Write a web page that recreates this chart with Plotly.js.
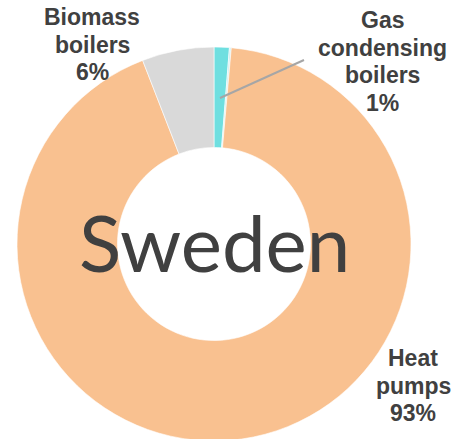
<!DOCTYPE html>
<html>
<head>
<meta charset="utf-8">
<script src="https://cdn.plot.ly/plotly-3.0.1.min.js"></script>
<style>
html,body{margin:0;padding:0;overflow:hidden;background:#fff;}
#chart{width:452px;height:445px;}
</style>
</head>
<body>
<div id="chart"></div>
<script>
// Data
const categories = ["Gas condensing boilers", "Other", "Heat pumps", "Biomass boilers"];
const values = [1.25, 0.15, 92.7, 5.9];
const shownPercent = ["1%", "", "93%", "6%"];
const labelLines = [["Gas", "condensing", "boilers"], [], ["Heat", "pumps"], ["Biomass", "boilers"]];
const colors = ["#6fdfe0", "#cdeef0", "#f9c190", "#d9d9d9"];
const centerTitle = "Sweden";

const W = 452, H = 445;
const cx = 214, cy = 244, R = 197;

const trace = {
  type: "pie",
  labels: categories,
  values: values,
  sort: false,
  direction: "clockwise",
  rotation: 0,
  hole: 0.49,
  textinfo: "none",
  hoverinfo: "label+percent",
  marker: {colors: colors, line: {color: "#ffffff", width: 0.6}},
  domain: {x: [(cx - R) / W, (cx + R) / W], y: [(H - cy - R) / H, (H - cy + R) / H]},
  showlegend: false
};

// first-line centre of each outside label block
const labelPos = [
  {x: 382, y: 20},
  null,
  {x: 413, y: 358},
  {x: 92, y: 17}
];
const lineGap = 27.6;

const px = (x) => x / W;
const py = (y) => 1 - y / H;

const annotations = [];
categories.forEach((c, i) => {
  if (!labelPos[i]) return;
  const lines = labelLines[i].concat([shownPercent[i]]);
  lines.forEach((ln, k) => {
    annotations.push({
      xref: "paper", yref: "paper",
      x: px(labelPos[i].x), y: py(labelPos[i].y + k * lineGap),
      xanchor: "center", yanchor: "middle",
      text: ln, showarrow: false, align: "center",
      font: {family: "Liberation Sans", size: 23, color: "#404040", weight: "bold"}
    });
  });
});
annotations.push({
  xref: "paper", yref: "paper",
  x: px(cx), y: py(242), xanchor: "center", yanchor: "middle",
  text: centerTitle, showarrow: false,
  font: {family: "Lato, sans-serif", size: 78, color: "#404040"}
});

const layout = {
  width: W, height: H,
  margin: {l: 0, r: 0, t: 0, b: 0},
  paper_bgcolor: "#ffffff",
  plot_bgcolor: "#ffffff",
  annotations: annotations,
  shapes: [{
    type: "line", xref: "paper", yref: "paper",
    x0: px(220), y0: py(98), x1: px(304), y1: py(60),
    line: {color: "#a6a6a6", width: 2}
  }]
};

Plotly.newPlot("chart", [trace], layout, {displayModeBar: false, staticPlot: true});
</script>
</body>
</html>
